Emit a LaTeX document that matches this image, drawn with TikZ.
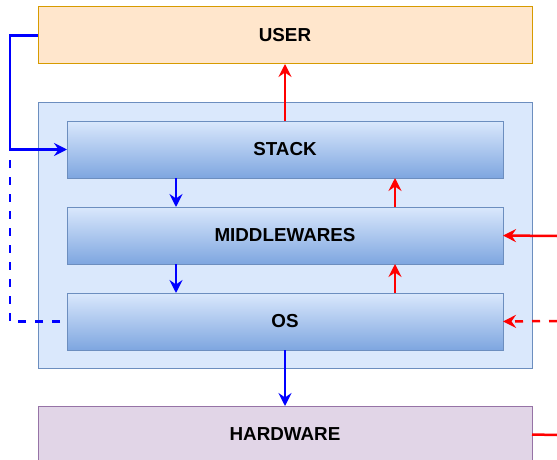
\documentclass[tikz,border=0pt]{standalone}
\usepackage{fontspec}
\setmainfont{Liberation Sans}
\usetikzlibrary{arrows.meta, positioning}

\definecolor{userfill}{HTML}{FFE6CC}
\definecolor{userdraw}{HTML}{D79B00}
\definecolor{corefill}{HTML}{DAE8FC}
\definecolor{coredraw}{HTML}{6C8EBF}
\definecolor{layerlow}{HTML}{7EA6E0}
\definecolor{hwfill}{HTML}{E1D5E7}
\definecolor{hwdraw}{HTML}{9673A6}

\begin{document}
\begin{tikzpicture}[
    x=1pt, y=-1pt,
    outerbox/.style={draw, line width=1pt, minimum width=494pt, minimum height=57pt, outer sep=0pt,
        font=\bfseries\fontsize{18.8}{20}\selectfont},
    layer/.style={draw=coredraw, line width=1pt, top color=corefill, bottom color=layerlow,
        minimum width=436pt, minimum height=57pt, outer sep=0pt, font=\bfseries\fontsize{18.8}{20}\selectfont},
    tip/.style={-{Stealth[length=13pt, width=13pt, inset=4.5pt]}},
    blueline/.style={draw=blue, line width=2.5pt},
    redline/.style={draw=red, line width=2.5pt},
    dashline/.style={dash pattern=on 8pt off 9pt}
]
    \useasboundingbox (0,0) rectangle (557,460);

    % User on top
    \node[outerbox, fill=userfill, draw=userdraw] (user) at (285,35.5) {USER};

    % Software container
    \node[draw=coredraw, fill=corefill, line width=1pt, minimum width=494pt, minimum height=266pt,
        outer sep=0pt] (core) at (285,235) {};

    % Layers inside the container
    \node[layer, below=57pt of user] (stack) {STACK};
    \node[layer, below=29pt of stack] (mid) {MIDDLEWARES};
    \node[layer, below=29pt of mid] (os) {OS};

    % Hardware below
    \node[outerbox, fill=hwfill, draw=hwdraw, below=56pt of os] (hw) {HARDWARE};

    % Free ends at the borders
    \coordinate (midin) at (557,236);
    \coordinate (osin) at (557,321);
    \coordinate (hwout) at (557,435);
    \coordinate (dashtop) at (10,158);

    % Downward path (blue)
    \draw[blueline, tip] (user.west) -- ++(-28,0) |- (stack.west);
    \draw[blueline, tip] ([xshift=-109pt]stack.south) -- ([xshift=-109pt]mid.north);
    \draw[blueline, tip] ([xshift=-109pt]mid.south) -- ([xshift=-109pt]os.north);
    \draw[blueline, tip] (os.south) -- (hw.north);
    \draw[blueline, dashline] ([xshift=-7pt]os.west) -| (dashtop);

    % Upward path (red)
    \draw[redline, tip] ([xshift=110pt]os.north) -- ([xshift=110pt]mid.south);
    \draw[redline, tip] ([xshift=110pt]mid.north) -- ([xshift=110pt]stack.south);
    \draw[redline, tip] (stack.north) -- (user.south);
    \draw[redline, tip] (midin) -- (mid.east);
    \draw[redline, tip, dashline] (osin) -- (os.east);
    \draw[redline] (hw.east) -- (hwout);

\end{tikzpicture}
\end{document}
